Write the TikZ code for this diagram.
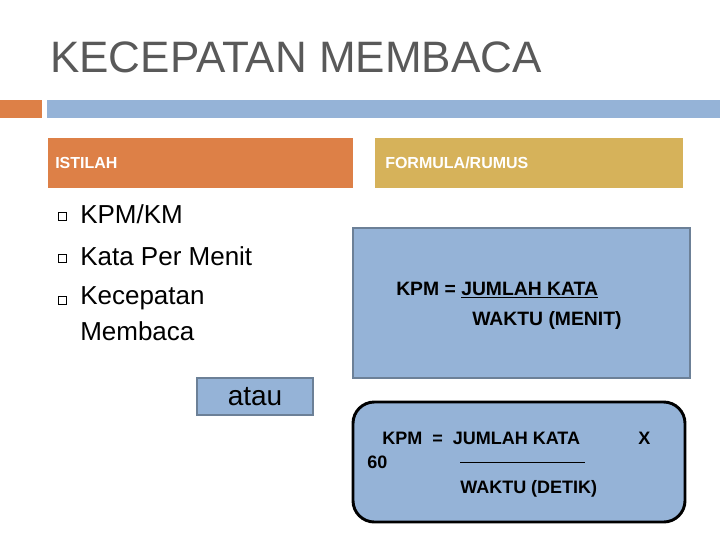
\documentclass[tikz,border=0pt]{standalone}
\usepackage{fontspec}
\setmainfont{Liberation Sans}
\definecolor{orng}{HTML}{DD8047}
\definecolor{gold}{HTML}{D6B25A}
\definecolor{lblue}{HTML}{95B3D7}
\definecolor{bord}{HTML}{6C8097}
\definecolor{ttl}{HTML}{595959}
\begin{document}
\begin{tikzpicture}[x=0.75pt,y=-0.75pt,
  txt/.style={anchor=west,inner sep=0pt,font=\fontsize{19.5}{22}\selectfont},
  ftxt/.style={anchor=west,inner sep=0pt,font=\bfseries\fontsize{14.5}{17}\selectfont},
  btxt/.style={anchor=base west,inner sep=0pt,font=\bfseries\fontsize{13.5}{16}\selectfont},
  hdr/.style={anchor=west,inner sep=0pt,text=white,font=\bfseries\fontsize{12}{14}\selectfont},
  bul/.style={draw=black,line width=0.6pt,minimum size=6pt,inner sep=0pt}]
\useasboundingbox (0,0) rectangle (720,540);
\node[anchor=base west,inner sep=0pt,text=ttl,font=\fontsize{33}{38}\selectfont] (title) at (50,72) {KECEPATAN MEMBACA};
\fill[orng] (0,100) rectangle (42,118);
\fill[lblue] (47,100) rectangle (720,118);
\fill[orng] (48,138) rectangle (353,188);
\node[hdr] (h1) at (55,163) {ISTILAH};
\fill[gold] (375,138) rectangle (683,188);
\node[hdr] (h2) at (385,163) {FORMULA/RUMUS};
\foreach \y/\t/\n in {214/KPM\slash KM/a,256/Kata Per Menit/b,298/Kecepatan/c}{
  \node[bul] (s\n) at (62,\y+2) {};
  \node[txt] (t\n) at (80,\y) {\t};
}
\node[txt] (td) at (80,331) {Membaca};
\draw[bord,line width=2pt,fill=lblue] (353,228) rectangle (690,378);
\node[ftxt] (f1) at (396,290) {KPM = \underline{JUMLAH KATA}};
\node[ftxt] (f2) at (472,320) {WAKTU (MENIT)};
\node[draw=bord,line width=1.5pt,fill=lblue,minimum width=116*0.75pt,minimum height=37*0.75pt,inner sep=0pt,font=\fontsize{21}{24}\selectfont] (atau) at (255,396.5) {atau};
\draw[black,line width=2.2pt,fill=lblue,rounded corners=16pt] (353,402) rectangle (685,522);
\node[btxt] (g1) at (382,444) {KPM \ = \ JUMLAH KATA};
\node[btxt] (gx) at (638,444) {X};
\node[btxt] (g60) at (367,468) {60};
\node[btxt] (g2) at (460,493) {WAKTU (DETIK)};
\coordinate (l1) at (460,462); \coordinate (l2) at (585,462);
\draw[black,line width=0.6pt] (l1) -- (l2);
\end{tikzpicture}
\end{document}
